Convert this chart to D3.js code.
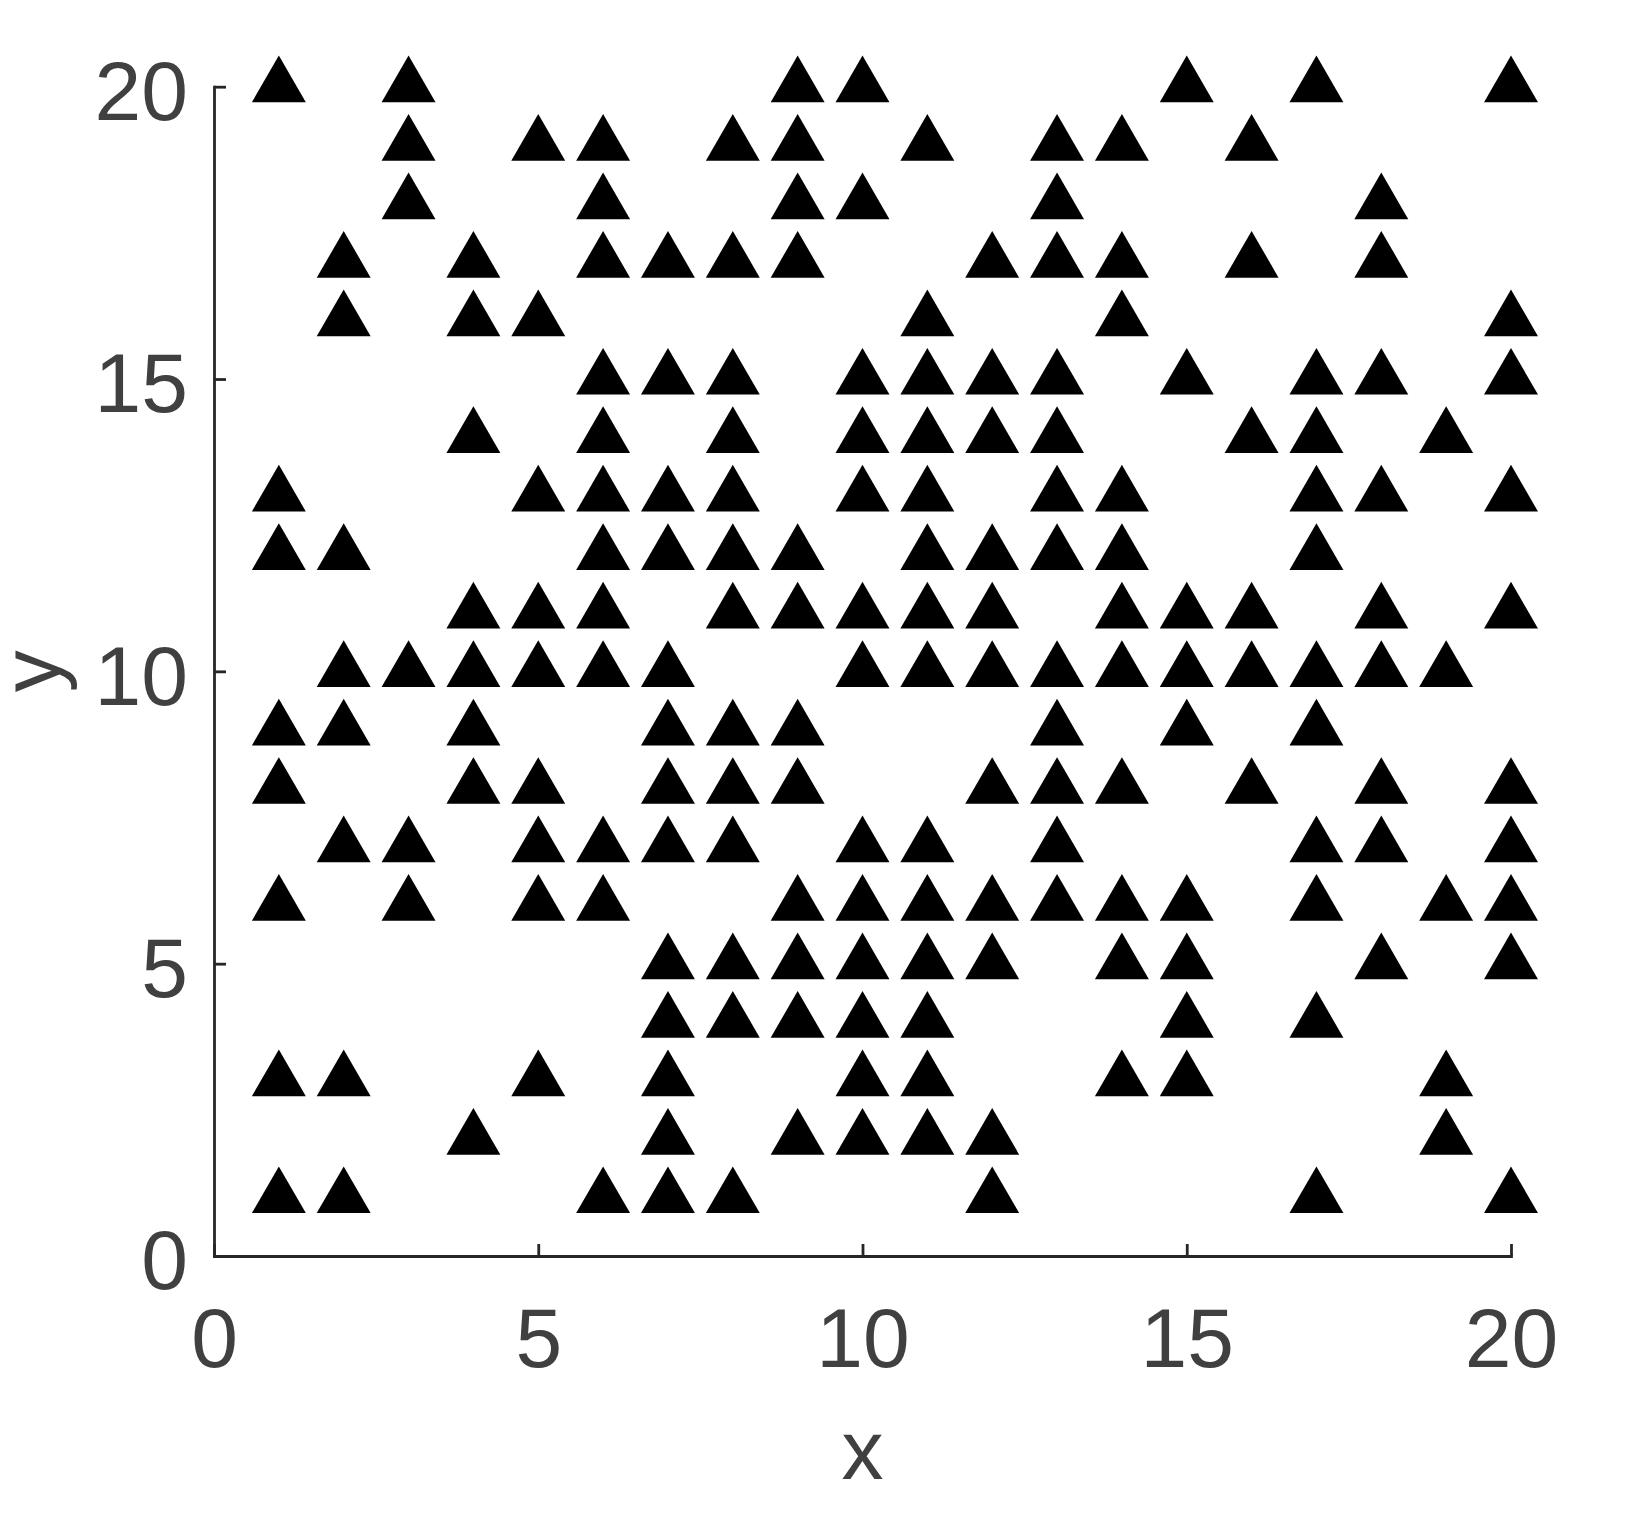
<!DOCTYPE html>
<html>
<head>
<meta charset="utf-8">
<script src="https://cdn.jsdelivr.net/npm/d3@7"></script>
<style>
  html, body { margin: 0; padding: 0; background: #fff; }
  svg { display: block; }
</style>
</head>
<body>
<div id="chart"></div>
<script>
// ---- data ----
const columnX = [1, 2, 3, 4, 5, 6, 7, 8, 9, 10, 11, 12, 13, 14, 15, 16, 17, 18, 19, 20];
const columnY = [
  [20, 13, 12, 9, 8, 6, 3, 1],                          // x = 1
  [17, 16, 12, 10, 9, 7, 3, 1],                         // x = 2
  [20, 19, 18, 10, 7, 6],                               // x = 3
  [17, 16, 14, 11, 10, 9, 8, 2],                        // x = 4
  [19, 16, 13, 11, 10, 8, 7, 6, 3],                     // x = 5
  [19, 18, 17, 15, 14, 13, 12, 11, 10, 7, 6, 1],        // x = 6
  [17, 15, 13, 12, 10, 9, 8, 7, 5, 4, 3, 2, 1],         // x = 7
  [19, 17, 15, 14, 13, 12, 11, 9, 8, 7, 5, 4, 1],       // x = 8
  [20, 19, 18, 17, 12, 11, 9, 8, 6, 5, 4, 2],           // x = 9
  [20, 18, 15, 14, 13, 11, 10, 7, 6, 5, 4, 3, 2],       // x = 10
  [19, 16, 15, 14, 13, 12, 11, 10, 7, 6, 5, 4, 3, 2],   // x = 11
  [17, 15, 14, 12, 11, 10, 8, 6, 5, 2, 1],              // x = 12
  [19, 18, 17, 15, 14, 13, 12, 10, 9, 8, 7, 6],         // x = 13
  [19, 17, 16, 13, 12, 11, 10, 8, 6, 5, 3],             // x = 14
  [20, 15, 11, 10, 9, 6, 5, 4, 3],                      // x = 15
  [19, 17, 14, 11, 10, 8],                              // x = 16
  [20, 15, 14, 13, 12, 10, 9, 7, 6, 4, 1],              // x = 17
  [18, 17, 15, 13, 11, 10, 8, 7, 5],                    // x = 18
  [14, 10, 6, 3, 2],                                    // x = 19
  [20, 16, 15, 13, 11, 8, 7, 6, 5, 1]                   // x = 20
];
const xTicks = [0, 5, 10, 15, 20];
const yTicks = [0, 5, 10, 15, 20];
const xDomain = [0, 20];
const yDomain = [0, 20];
const xLabel = "x";
const yLabel = "y";

const points = [];
columnX.forEach((cx, i) => columnY[i].forEach(cy => points.push({x: cx, y: cy})));

// ---- layout ----
const W = 1637, H = 1517;
const plotLeft = 214, plotRight = 1511, plotTop = 86.7, plotBottom = 1256;
const axisColor = "#262626";
const textColor = "#404040";
const fontFamily = "'Liberation Sans', Arial, Helvetica, sans-serif";
const fontSize = 84;

const svg = d3.select("#chart").append("svg")
  .attr("width", W).attr("height", H);

const x = d3.scaleLinear().domain(xDomain).range([plotLeft, plotRight]);
const y = d3.scaleLinear().domain(yDomain).range([plotBottom, plotTop]);

// markers
svg.append("g").selectAll("path")
  .data(points)
  .join("path")
  .attr("transform", d => `translate(${x(d.x)},${y(d.y)})`)
  .attr("d", d3.symbol().type(d3.symbolTriangle).size(1260))
  .attr("fill", "#000");

// x axis
const gx = svg.append("g")
  .attr("transform", `translate(0,${plotBottom})`)
  .call(d3.axisBottom(x).tickValues(xTicks).tickFormat(d3.format("d"))
        .tickSizeInner(-12).tickSizeOuter(0).tickPadding(51));
// y axis
const gy = svg.append("g")
  .attr("transform", `translate(${plotLeft},0)`)
  .call(d3.axisLeft(y).tickValues(yTicks).tickFormat(d3.format("d"))
        .tickSizeInner(-12).tickSizeOuter(0).tickPadding(26));

[gx, gy].forEach(g => {
  g.select(".domain").attr("stroke", axisColor).attr("stroke-width", 2.8)
    .attr("stroke-linecap", "square");
  g.selectAll(".tick line").attr("stroke", axisColor).attr("stroke-width", 2.8);
  g.selectAll(".tick text")
    .attr("fill", textColor)
    .style("font-family", fontFamily)
    .style("font-size", fontSize + "px");
});
gy.selectAll(".tick text").attr("dy", "0.39em");

// axis labels
svg.append("text")
  .attr("x", (plotLeft + plotRight) / 2)
  .attr("y", 1479)
  .attr("text-anchor", "middle")
  .attr("fill", textColor)
  .style("font-family", fontFamily)
  .style("font-size", fontSize + "px")
  .text(xLabel);

svg.append("text")
  .attr("transform", `translate(60,${(plotTop + plotBottom) / 2}) rotate(-90)`)
  .attr("text-anchor", "middle")
  .attr("fill", textColor)
  .style("font-family", fontFamily)
  .style("font-size", fontSize + "px")
  .text(yLabel);
</script>
</body>
</html>
